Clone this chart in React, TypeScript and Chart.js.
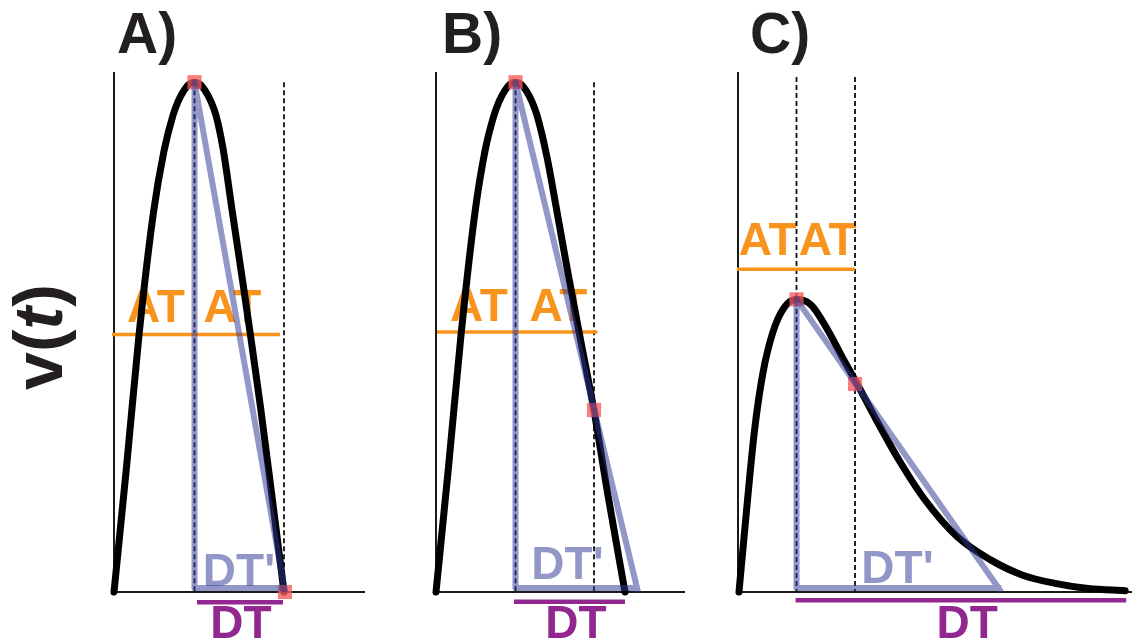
import React, { useEffect, useRef } from "react";
import { Chart, registerables } from "chart.js";

Chart.register(...registerables);

// ---- Velocity pulses (time in ms-like units, velocity in % of panel A peak) ----
const timeA = [0, 12.5, 25, 39.5, 50, 59, 64, 70, 75, 80.5, 86, 91, 97, 102, 109, 118, 129, 136, 146.5, 157.5, 170];
const velocityA = [0, 24.5, 50.4, 74.5, 86.5, 93.5, 96.2, 98.4, 99.6, 100, 99.6, 98.4, 96.2, 93.5, 87, 75, 60.5, 51, 36.3, 19.5, 0];

const timeB = [0, 12.5, 25, 39, 49, 58, 63, 69, 74, 79.5, 85, 90, 96, 101, 111, 121.5, 132.5, 145, 158, 171.5, 189];
const velocityB = [0, 24.5, 50.4, 74.5, 86.5, 93.5, 96.2, 98.4, 99.6, 100, 99.6, 98.4, 96.2, 93.5, 85.3, 74, 62, 49, 35.6, 19.5, 0];

const timeC = [1, 8.5, 17, 25.5, 35.5, 47, 60, 75, 92, 108.5, 122, 142, 165, 192, 225, 259, 292, 325, 359, 397];
const velocityC = [0, 15.5, 31.8, 42.9, 50.8, 55.7, 57.4, 56.3, 51.4, 45.5, 40.9, 33.7, 25.9, 18, 10.8, 6.3, 3.3, 1.7, 0.7, 0.25];

// ---- Marked points (peak and the point used for the deceleration line) ----
const markTimeA = [80.5, 171];
const markVelA = [100, 0];
const markTimeB = [79.5, 158];
const markVelB = [100, 35.7];
const markTimeC = [60, 120];
const markVelC = [57.4, 40.8];

// ---- Deceleration triangle: end of line, peak, foot of peak, end on baseline ----
const triTimeA = [171, 80.5, 80.5, 171];
const triVelA = [0, 100, 0.8, 0.8];
const triTimeB = [202, 79.5, 79.5, 202];
const triVelB = [0, 100, 0.8, 0.8];
const triTimeC = [270, 60, 60, 270];
const triVelC = [0, 57.4, 0.8, 0.8];

// ---- Dashed guide times (peak time and 2x acceleration time) ----
const guideTimesA = [80.5, 170];
const guideTimesB = [79.5, 158];
const guideTimesC = [60, 120];

// ---- AT reference level and span ----
const atLevelA = 50.5;
const atSpanA = [-2, 166];
const atLevelB = 51;
const atSpanB = [1, 161.5];
const atLevelC = 63.3;
const atSpanC = [-1, 120];

// ---- DT span under the axis ----
const dtSpanA = [83, 169];
const dtSpanB = [78, 189];
const dtSpanC = [59, 398];
const dtLevel = [-2, -1.9, -1.6];

// ---- Text ----
const panelTitles = ["A)", "B)", "C)"];
const atText = "AT";
const dtText = "DT";
const dtPrimeText = "DT'";
const yTitleParts = ["v(", "t", ")"];

const V_MAX = 102;
const ORANGE = "#F8941E";
const PURPLE = "#92278F";
const LAVENDER = "rgba(46,55,150,0.52)";
const RED = "rgba(250,90,90,0.78)";
const INK = "#231F20";
const FONT = '"Liberation Sans", Arial, Helvetica, sans-serif';

type PanelDef = {
  left: number;
  width: number;
  padLeft: number;
  padRight: number;
  xMax: number;
  time: number[];
  velocity: number[];
  markT: number[];
  markV: number[];
  triT: number[];
  triV: number[];
  guides: number[];
  guideTop: number;
  atLevel: number;
  atSpan: number[];
  dtSpan: number[];
  dtLevel: number;
  title: string;
  titleOffset: number;
  atLabelTimes: number[];
  atLabelLift: number;
  dtPrimeTime: number;
  dtPrimeLift: number;
  dtTime: number;
  showYTitle: boolean;
};

const panels: PanelDef[] = [
  {
    left: 0, width: 420, padLeft: 114, padRight: 55, xMax: 251,
    time: timeA, velocity: velocityA, markT: markTimeA, markV: markVelA,
    triT: triTimeA, triV: triVelA, guides: guideTimesA, guideTop: 100,
    atLevel: atLevelA, atSpan: atSpanA, dtSpan: dtSpanA, dtLevel: dtLevel[0],
    title: panelTitles[0], titleOffset: 3, atLabelTimes: [42, 118.5], atLabelLift: 13,
    dtPrimeTime: 125, dtPrimeLift: 6, dtTime: 127, showYTitle: true,
  },
  {
    left: 420, width: 300, padLeft: 16, padRight: 35, xMax: 249,
    time: timeB, velocity: velocityB, markT: markTimeB, markV: markVelB,
    triT: triTimeB, triV: triVelB, guides: guideTimesB, guideTop: 100,
    atLevel: atLevelB, atSpan: atSpanB, dtSpan: dtSpanB, dtLevel: dtLevel[1],
    title: panelTitles[1], titleOffset: 6, atLabelTimes: [43, 122.5], atLabelLift: 11,
    dtPrimeTime: 131.5, dtPrimeLift: 13, dtTime: 140, showYTitle: false,
  },
  {
    left: 720, width: 422, padLeft: 18, padRight: 0, xMax: 404,
    time: timeC, velocity: velocityC, markT: markTimeC, markV: markVelC,
    triT: triTimeC, triV: triVelC, guides: guideTimesC, guideTop: 101,
    atLevel: atLevelC, atSpan: atSpanC, dtSpan: dtSpanC, dtLevel: dtLevel[2],
    title: panelTitles[2], titleOffset: 12, atLabelTimes: [30.5, 92], atLabelLift: 14,
    dtPrimeTime: 163.5, dtPrimeLift: 9, dtTime: 235, showYTitle: false,
  },
];

const pts = (t: number[], v: number[]) => t.map((x, i) => ({ x, y: v[i] }));

function buildConfig(p: PanelDef): any {
  const base = { showLine: true, pointRadius: 0, clip: false as any, tension: 0 };
  // Lower "order" is painted later (on top).
  const datasets: any[] = [
    {
      ...base,
      data: [{ x: 0, y: V_MAX }, { x: 0, y: 0 }, { x: p.xMax, y: 0 }],
      borderColor: "#1a1a1a", borderWidth: 2, order: 7,
    },
    ...p.guides.map((g) => ({
      ...base,
      data: [{ x: g, y: p.guideTop }, { x: g, y: 0 }],
      borderColor: "#111", borderWidth: 1.8, borderDash: [5, 3], order: 6,
    })),
    {
      ...base,
      data: [{ x: p.atSpan[0], y: p.atLevel }, { x: p.atSpan[1], y: p.atLevel }],
      borderColor: ORANGE, borderWidth: 3.5, order: 5,
    },
    {
      ...base,
      cubicInterpolationMode: "monotone",
      data: pts(p.time, p.velocity),
      borderColor: "#000", borderWidth: 7,
      borderCapStyle: "round", borderJoinStyle: "round", order: 4,
    },
    {
      showLine: false, clip: false,
      data: pts(p.markT, p.markV),
      pointStyle: "rect", pointRadius: 10, pointBackgroundColor: RED,
      pointBorderWidth: 0, pointBorderColor: "rgba(0,0,0,0)", order: 3,
    },
    {
      ...base,
      data: pts(p.triT, p.triV),
      borderColor: LAVENDER, borderWidth: 6, borderJoinStyle: "round", order: 2,
    },
    {
      ...base,
      data: [{ x: p.dtSpan[0], y: p.dtLevel }, { x: p.dtSpan[1], y: p.dtLevel }],
      borderColor: PURPLE, borderWidth: 4.5, order: 2,
    },
  ];

  const labels = {
    id: "panelLabels",
    beforeDatasetsDraw(chart: any) {
      const { ctx, scales } = chart;
      const xs = scales.x;
      const ys = scales.y;
      ctx.save();
      ctx.textAlign = "center";
      ctx.textBaseline = "alphabetic";
      ctx.font = `bold 46px ${FONT}`;
      ctx.fillStyle = ORANGE;
      const atY = ys.getPixelForValue(p.atLevel) - p.atLabelLift;
      p.atLabelTimes.forEach((t) => ctx.fillText(atText, xs.getPixelForValue(t), atY));
      ctx.fillStyle = LAVENDER;
      ctx.fillText(dtPrimeText, xs.getPixelForValue(p.dtPrimeTime), ys.getPixelForValue(0) - p.dtPrimeLift);
      ctx.restore();
    },
    afterDatasetsDraw(chart: any) {
      const { ctx, scales, chartArea } = chart;
      const xs = scales.x;
      const ys = scales.y;
      ctx.save();
      ctx.textBaseline = "alphabetic";
      ctx.textAlign = "center";
      ctx.font = `bold 46px ${FONT}`;
      ctx.fillStyle = PURPLE;
      ctx.fillText(dtText, xs.getPixelForValue(p.dtTime), ys.getPixelForValue(0) + 46);

      ctx.textAlign = "left";
      ctx.font = `bold 57px ${FONT}`;
      ctx.fillStyle = INK;
      ctx.fillText(p.title, chartArea.left + p.titleOffset, 53);

      if (p.showYTitle) {
        const fonts = [`bold 68px ${FONT}`, `italic bold 68px ${FONT}`, `bold 68px ${FONT}`];
        let total = 0;
        const widths = yTitleParts.map((s, i) => {
          ctx.font = fonts[i];
          const w = ctx.measureText(s).width;
          total += w;
          return w;
        });
        ctx.translate(62, 337);
        ctx.rotate(-Math.PI / 2);
        let x = -total / 2;
        yTitleParts.forEach((s, i) => {
          ctx.font = fonts[i];
          ctx.fillText(s, x, 0);
          x += widths[i];
        });
      }
      ctx.restore();
    },
  };

  return {
    type: "scatter",
    data: { datasets },
    options: {
      animation: false,
      responsive: false,
      events: [],
      layout: { padding: { left: p.padLeft, right: p.padRight, top: 72, bottom: 52 } },
      scales: {
        x: { type: "linear", display: false, min: 0, max: p.xMax },
        y: { type: "linear", display: false, min: 0, max: V_MAX },
      },
      plugins: { legend: { display: false }, tooltip: { enabled: false } },
    },
    plugins: [labels],
  };
}

function PanelChart({ panel }: { panel: PanelDef }) {
  const ref = useRef<HTMLCanvasElement | null>(null);
  useEffect(() => {
    if (!ref.current) return;
    const chart = new Chart(ref.current, buildConfig(panel));
    return () => chart.destroy();
  }, [panel]);
  return (
    <canvas
      ref={ref}
      width={panel.width}
      height={644}
      style={{ position: "absolute", left: panel.left, top: 0, width: panel.width, height: 644 }}
    />
  );
}

export default function App() {
  return (
    <div style={{ position: "absolute", left: 0, top: 0, width: 1142, height: 644, background: "#fff", overflow: "hidden" }}>
      {panels.map((p, i) => (
        <PanelChart key={i} panel={p} />
      ))}
    </div>
  );
}
